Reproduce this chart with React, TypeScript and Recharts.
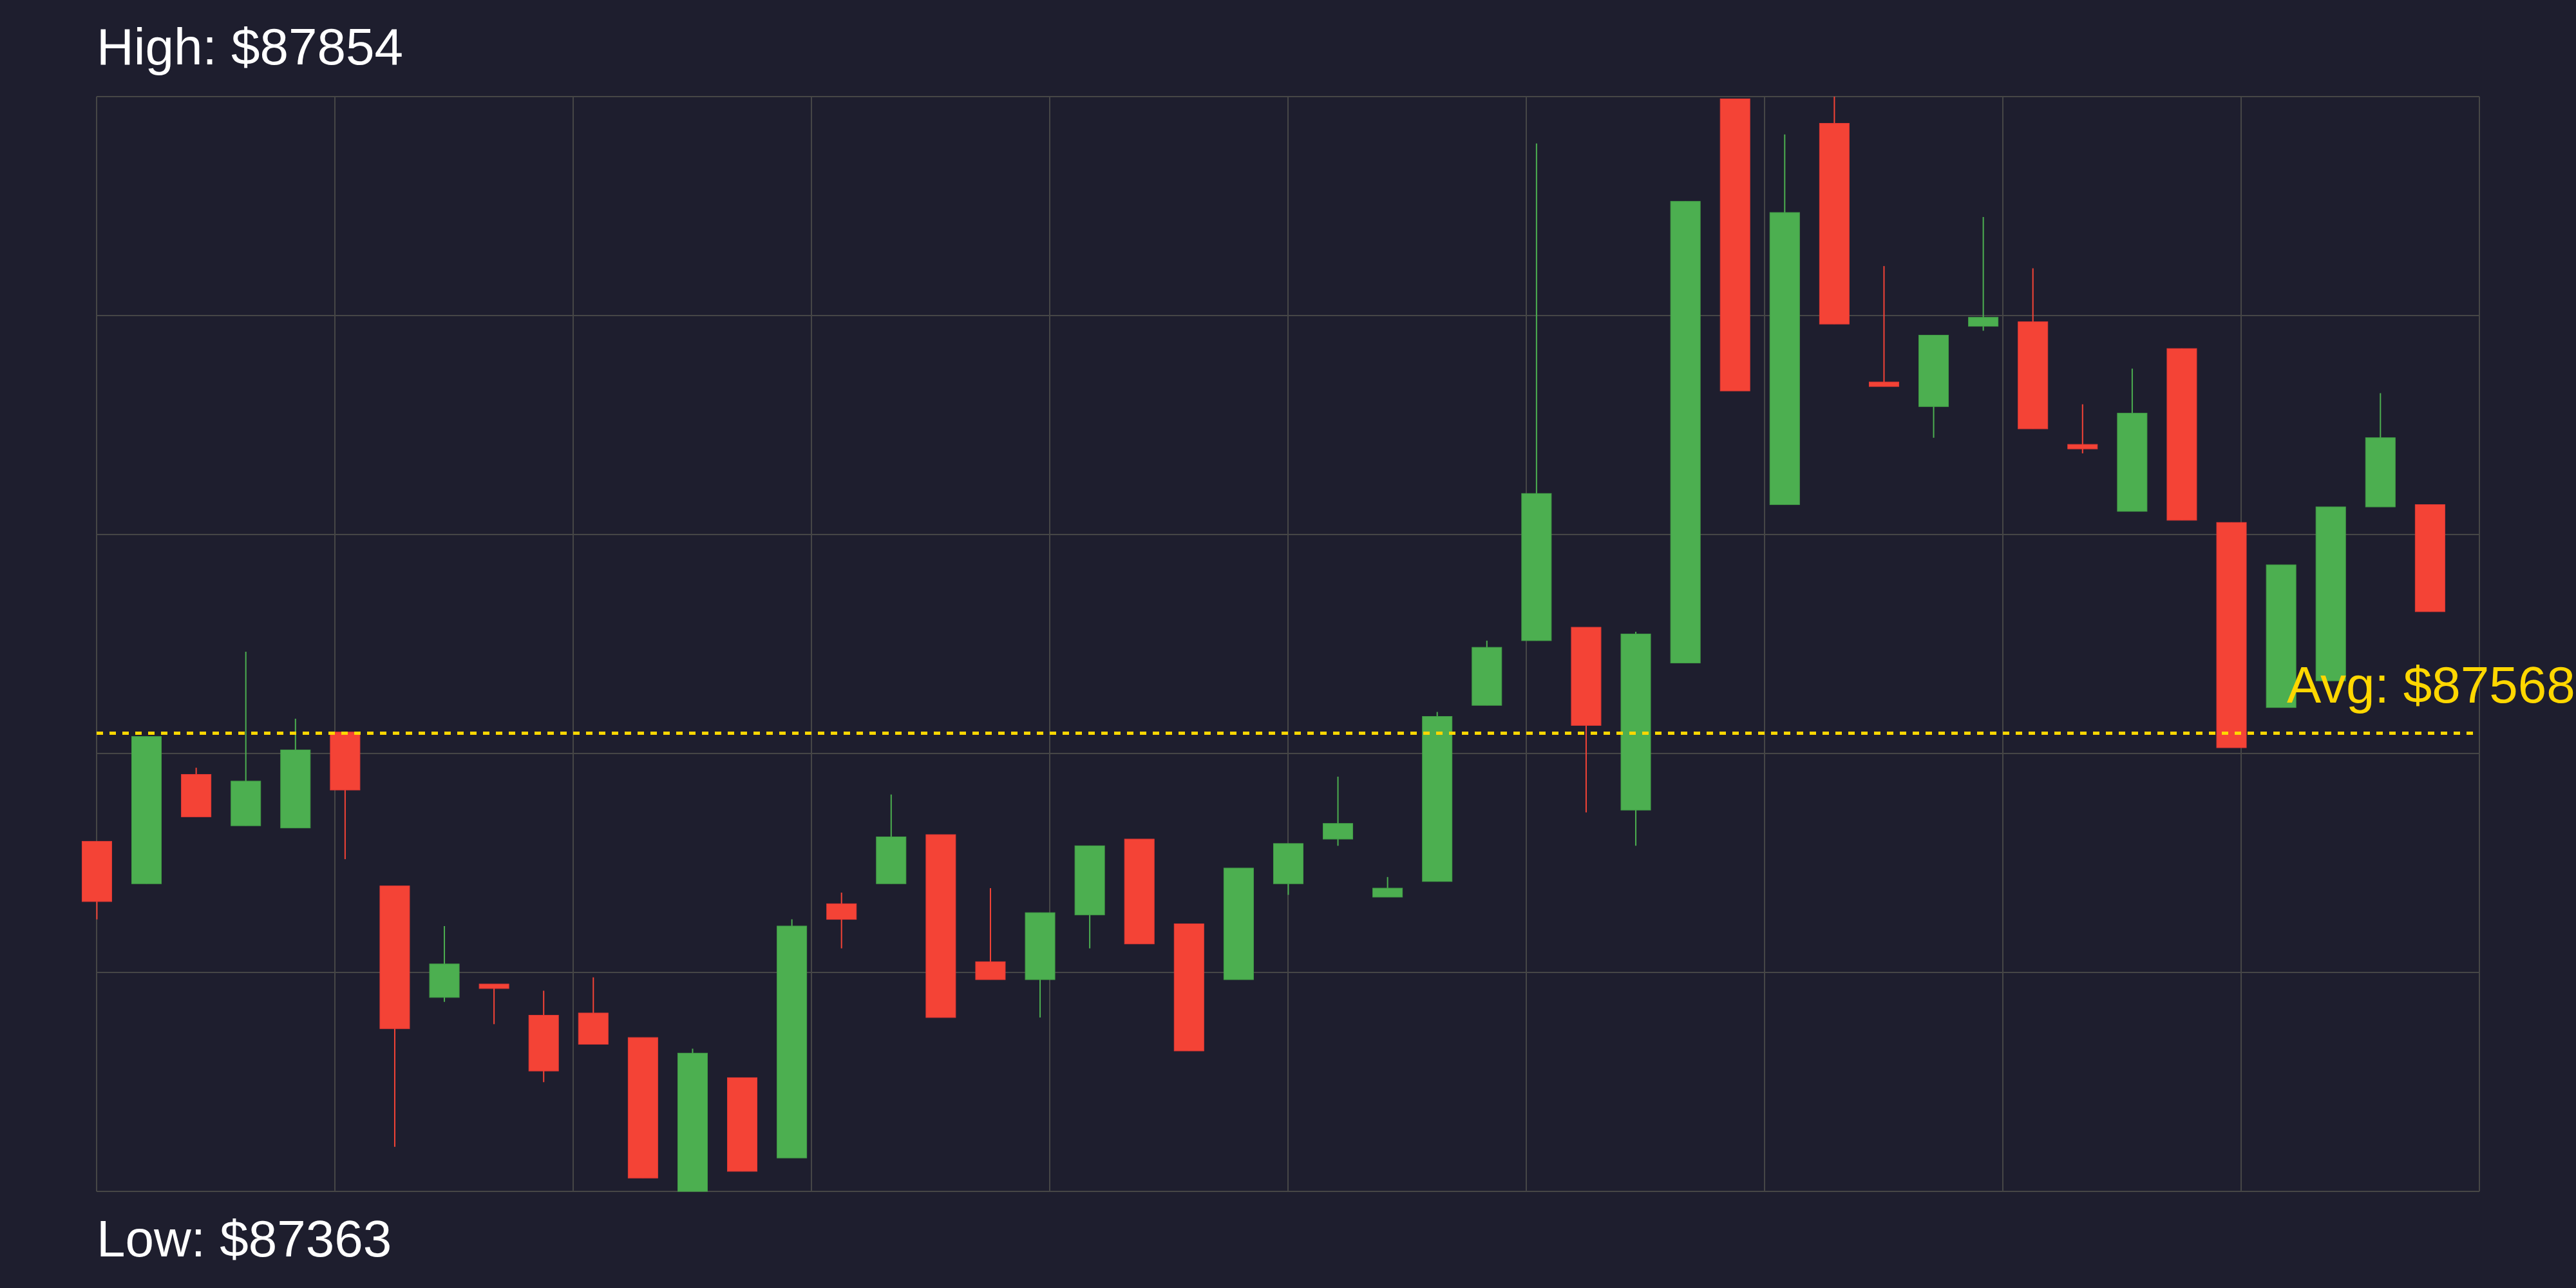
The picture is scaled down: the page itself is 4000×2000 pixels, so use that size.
import { Bar, CartesianGrid, ComposedChart, ReferenceLine, XAxis, YAxis } from "recharts";

// OHLC per candle (48 candles)
const OPEN = [
  87520, 87501, 87550, 87527, 87526, 87569, 87500, 87450, 87456, 87442, 87443, 87432,
  87363, 87414, 87378, 87492, 87501, 87523, 87466, 87458, 87487, 87521, 87483, 87458,
  87501, 87521, 87495, 87502, 87581, 87610, 87616, 87534, 87600, 87853, 87671, 87842,
  87726, 87715, 87751, 87753, 87698, 87668, 87741, 87663, 87580, 87592, 87670, 87671
];
const HIGH = [
  87520, 87567, 87553, 87605, 87575, 87569, 87500, 87482, 87456, 87453, 87459, 87432,
  87427, 87414, 87485, 87497, 87541, 87523, 87499, 87488, 87518, 87521, 87483, 87508,
  87519, 87549, 87504, 87578, 87610, 87833, 87616, 87614, 87807, 87853, 87837, 87854,
  87778, 87747, 87800, 87777, 87716, 87732, 87741, 87663, 87644, 87670, 87721, 87671
];
const LOW = [
  87485, 87501, 87531, 87527, 87526, 87512, 87383, 87448, 87438, 87412, 87429, 87369,
  87363, 87372, 87378, 87472, 87501, 87441, 87458, 87441, 87472, 87474, 87426, 87458,
  87496, 87518, 87495, 87502, 87581, 87610, 87533, 87518, 87600, 87722, 87671, 87752,
  87724, 87701, 87749, 87705, 87694, 87668, 87664, 87562, 87580, 87592, 87670, 87623
];
const CLOSE = [
  87493, 87567, 87531, 87547, 87561, 87543, 87436, 87465, 87454, 87417, 87429, 87369,
  87425, 87372, 87482, 87485, 87522, 87441, 87458, 87488, 87518, 87474, 87426, 87508,
  87519, 87528, 87499, 87576, 87607, 87676, 87572, 87613, 87807, 87722, 87802, 87752,
  87724, 87747, 87755, 87705, 87696, 87712, 87664, 87562, 87644, 87670, 87701, 87623
];

const X_TICKS = [0, 4.8, 9.6, 14.4, 19.2, 24, 28.8, 33.6, 38.4, 43.2, 48];
const Y_TICKS = [87363, 87461.2, 87559.4, 87657.6, 87755.8, 87854];

const UP = "#4caf50";
const DOWN = "#f44336";
const BG = "#1e1e2e";
const GRID = "#464646";
const FONT = "Liberation Sans, Arial, sans-serif";

const data = OPEN.map((open, i) => ({
  idx: i,
  open,
  high: HIGH[i],
  low: LOW[i],
  close: CLOSE[i],
  range: [LOW[i], HIGH[i]]
}));

const maxHigh = Math.max(...HIGH);
const minLow = Math.min(...LOW);
const avgClose = CLOSE.reduce((a, b) => a + b, 0) / CLOSE.length;

// grid positions: use the axis scale when recharts hands it over, else map through the plot box
const gridY = ({ yAxis, offset }: any) =>
  Y_TICKS.map((t) =>
    yAxis && typeof yAxis.scale === "function"
      ? yAxis.scale(t)
      : offset.top + (offset.height * (maxHigh - t)) / (maxHigh - minLow)
  );
const gridX = ({ xAxis, offset }: any) =>
  X_TICKS.map((t) =>
    xAxis && typeof xAxis.scale === "function" ? xAxis.scale(t) : offset.left + (offset.width * t) / 48
  );

function Candle(props: any) {
  const { x, y, width, height, payload } = props;
  if (!payload || x == null) return null;
  const { open, close, high, low } = payload;
  const up = close >= open;
  const color = up ? UP : DOWN;
  const top = Math.min(y, y + height);
  const h = Math.abs(height);
  const k = high === low ? 0 : h / (high - low);
  const yOf = (v: number) => top + (high - v) * k;
  const bodyTop = yOf(Math.max(open, close));
  const bodyH = Math.max(yOf(Math.min(open, close)) - bodyTop, 2);
  const cx = x + width / 2;
  return (
    <g>
      <line x1={cx} x2={cx} y1={top} y2={top + h} stroke={color} strokeWidth={2} />
      <rect x={x} y={bodyTop} width={width} height={bodyH} fill={color} stroke={up ? "#43a047" : "#e53935"} strokeWidth={1} />
    </g>
  );
}

function AvgLabel(props: any) {
  const { viewBox } = props;
  if (!viewBox) return null;
  return (
    <text x={viewBox.x + viewBox.width - 299} y={viewBox.y - 48} fill="#ffd700" fontSize={80} fontFamily={FONT}>
      {`Avg: $${avgClose.toFixed(0)}`}
    </text>
  );
}

export default function App() {
  return (
    <div style={{ width: 4000, height: 2000, background: BG, position: "relative" }}>
      <style>{`body{margin:0;background:${BG};}`}</style>
      <ComposedChart width={4000} height={2000} data={data} margin={{ top: 150, right: 150, bottom: 150, left: 150 }}>
        <CartesianGrid
          stroke={GRID}
          strokeWidth={2}
          horizontalCoordinatesGenerator={gridY}
          verticalCoordinatesGenerator={gridX}
        />
        <XAxis
          dataKey="idx"
          type="number"
          domain={[0, 48]}
          ticks={X_TICKS}
          interval={0}
          height={0}
          tick={false}
          tickLine={false}
          axisLine={false}
        />
        <YAxis
          type="number"
          domain={[minLow, maxHigh]}
          ticks={Y_TICKS}
          interval={0}
          width={0}
          tick={false}
          tickLine={false}
          axisLine={false}
        />
        <Bar dataKey="range" barSize={46} shape={<Candle />} isAnimationActive={false} />
        <ReferenceLine y={avgClose} stroke="#ffd700" strokeWidth={5} strokeDasharray="10 10" label={<AvgLabel />} />
        <text x={150} y={100} fill="#ffffff" fontSize={80} fontFamily={FONT}>
          {`High: $${maxHigh}`}
        </text>
        <text x={150} y={1951} fill="#ffffff" fontSize={80} fontFamily={FONT}>
          {`Low: $${minLow}`}
        </text>
      </ComposedChart>
    </div>
  );
}
